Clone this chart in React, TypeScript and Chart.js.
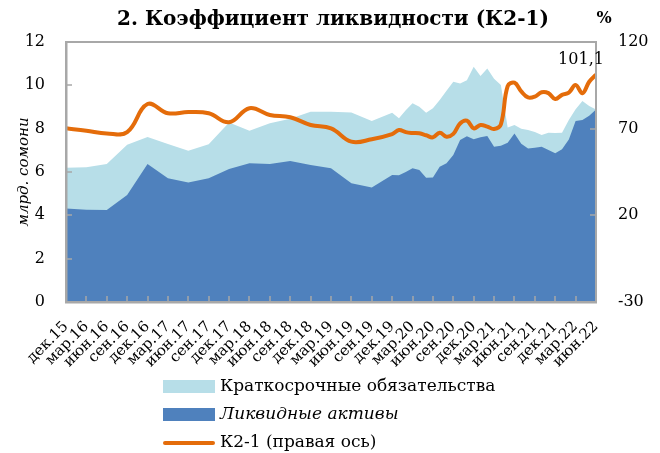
import React, { useEffect, useRef } from "react";
import { Chart, registerables } from "chart.js";

Chart.register(...registerables);

const quarterLabels = [
  "дек.15", "мар.16", "июн.16", "сен.16", "дек.16", "мар.17", "июн.17", "сен.17",
  "дек.17", "мар.18", "июн.18", "сен.18", "дек.18", "мар.19", "июн.19", "сен.19",
  "дек.19", "мар.20", "июн.20", "сен.20", "дек.20", "мар.21", "июн.21", "сен.21",
  "дек.21", "мар.22", "июн.22",
];

// month index counted from dec.15 (quarterly until dec.19, monthly after)
const months = [
  0, 3, 6, 9, 12, 15, 18, 21, 24, 27, 30, 33, 36, 39, 42, 45, 48,
  49, 50, 51, 52, 53, 54, 55, 56, 57, 58, 59, 60, 61, 62, 63, 64, 65, 66, 67, 68,
  69, 70, 71, 72, 73, 74, 75, 76, 77, 78,
];

// Краткосрочные обязательства, млрд. сомони
const liabilities = [
  6.2, 6.22, 6.37, 7.26, 7.61, 7.29, 6.98, 7.28, 8.29, 7.9, 8.25, 8.46, 8.78, 8.78, 8.75, 8.35, 8.74,
  8.48, 8.85, 9.17, 9.01, 8.74, 8.94, 9.32, 9.75, 10.17, 10.09, 10.24, 10.86, 10.43, 10.78, 10.3, 10.01,
  8.05, 8.17, 8.0, 7.94, 7.85, 7.71, 7.81, 7.8, 7.81, 8.4, 8.9, 9.28, 9.05, 8.89,
];

// Ликвидные активы, млрд. сомони
const assets = [
  4.32, 4.26, 4.25, 4.94, 6.37, 5.71, 5.51, 5.71, 6.14, 6.4, 6.37, 6.51, 6.32, 6.17, 5.48, 5.29, 5.86,
  5.85, 6.0, 6.17, 6.09, 5.74, 5.75, 6.24, 6.4, 6.78, 7.48, 7.65, 7.51, 7.6, 7.66, 7.17, 7.21,
  7.35, 7.78, 7.3, 7.09, 7.12, 7.17, 7.01, 6.86, 7.05, 7.5, 8.35, 8.4, 8.6, 8.89,
];

// К2-1, %
const ratio = [
  70.2, 68.8, 67.2, 68.0, 84.2, 78.9, 79.6, 78.9, 73.7, 81.8, 77.9, 76.6, 72.1, 70.2, 62.5, 63.9, 66.9,
  69.2, 68.0, 67.5, 67.3, 66.2, 65.0, 67.7, 65.4, 67.0, 73.0, 74.6, 70.2, 72.1, 71.2, 69.8, 72.5,
  94.5, 96.5, 91.5, 88.0, 88.5, 91.0, 90.5, 87.1, 89.5, 90.8, 95.2, 90.4, 97.1, 101.1,
];

const leftTicks = [0, 2, 4, 6, 8, 10, 12];
const rightTicks = [-30, 20, 70, 120];

const LIGHT = "#b7dee8";
const DARK = "#4f81bd";
const ORANGE = "#e46c0a";
const AXIS = "#a8a8a8";
const FONT = "'DejaVu Serif', serif";

const overlayPlugin = {
  id: "overlay",
  afterDraw(chart: any) {
    const ctx = chart.ctx;
    const a = chart.chartArea;
    const sx = chart.scales.x;
    const sy = chart.scales.y;
    const sy1 = chart.scales.y1;

    // frame and inward tick marks
    ctx.save();
    ctx.globalAlpha = 1;
    ctx.globalCompositeOperation = "source-over";
    ctx.fillStyle = AXIS;
    ctx.fillRect(a.left - 1, a.top - 1, a.right - a.left + 2, 2);
    ctx.fillRect(a.left - 1, a.top - 1, 2.5, a.bottom - a.top + 2);
    ctx.fillRect(a.left - 1, a.bottom - 1, a.right - a.left + 2, 2.5);
    ctx.fillRect(a.right - 1, a.top - 1, 2, a.bottom - a.top + 2);
    for (const v of leftTicks) {
      if (v === 8) continue; // hidden under the K2-1 line
      const py = Math.round(sy.getPixelForValue(v));
      ctx.fillRect(a.left, py - 0.75, 6, 1.5);
    }
    for (const v of rightTicks) {
      const py = Math.round(sy1.getPixelForValue(v));
      ctx.fillRect(a.right - 6, py - 0.75, 6, 1.5);
    }
    for (let i = 0; i < quarterLabels.length; i++) {
      const px = Math.round(sx.getPixelForValue(i * 3));
      ctx.fillRect(px - 0.75, a.bottom - 6, 1.5, 6);
    }
    ctx.restore();

    ctx.save();
    ctx.fillStyle = "#000";
    ctx.textBaseline = "middle";
    ctx.textAlign = "center";
    ctx.font = `bold 20px ${FONT}`;
    ctx.fillText("2. Коэффициент ликвидности (К2-1)", 333, 20);
    ctx.font = `bold 16px ${FONT}`;
    ctx.fillText("%", 604, 19);
    // last value label
    const last = ratio.length - 1;
    const lx = sx.getPixelForValue(months[last]);
    const ly = sy1.getPixelForValue(ratio[last]);
    ctx.font = `16px ${FONT}`;
    ctx.fillText(String(ratio[last]).replace(".", ","), lx - 15, ly - 15);

    // legend
    const items = [
      { text: "Краткосрочные обязательства", type: "box", color: LIGHT, italic: false },
      { text: "Ликвидные активы", type: "box", color: DARK, italic: true },
      { text: "К2-1 (правая ось)", type: "line", color: ORANGE, italic: false },
    ];
    const rowsY = [386.5, 414.5, 443];
    ctx.textAlign = "left";
    items.forEach((it, i) => {
      const cy = rowsY[i];
      if (it.type === "box") {
        ctx.fillStyle = it.color;
        ctx.fillRect(163, cy - 6.5, 52, 13);
      } else {
        ctx.strokeStyle = it.color;
        ctx.lineWidth = 4;
        ctx.lineCap = "round";
        ctx.beginPath();
        ctx.moveTo(165, cy);
        ctx.lineTo(213, cy);
        ctx.stroke();
      }
      ctx.fillStyle = "#000";
      ctx.font = `${it.italic ? "italic " : ""}17px ${FONT}`;
      ctx.fillText(it.text, 220, cy);
    });
    ctx.restore();
  },
};

export default function App() {
  const ref = useRef<HTMLCanvasElement | null>(null);

  useEffect(() => {
    if (!ref.current) return;
    const chart = new Chart(ref.current, {
      type: "line",
      data: {
        datasets: [
          {
            label: "К2-1 (правая ось)",
            data: months.map((m, i) => ({ x: m, y: ratio[i] })),
            yAxisID: "y1",
            borderColor: ORANGE,
            borderWidth: 4,
            pointRadius: 0,
            tension: 0.4,
            fill: false,
          },
          {
            label: "Ликвидные активы",
            data: months.map((m, i) => ({ x: m, y: assets[i] })),
            yAxisID: "y",
            backgroundColor: DARK,
            borderWidth: 0,
            borderColor: "rgba(0,0,0,0)",
            pointRadius: 0,
            tension: 0,
            fill: "origin",
          },
          {
            label: "Краткосрочные обязательства",
            data: months.map((m, i) => ({ x: m, y: liabilities[i] })),
            yAxisID: "y",
            backgroundColor: LIGHT,
            borderWidth: 0,
            borderColor: "rgba(0,0,0,0)",
            pointRadius: 0,
            tension: 0,
            fill: "origin",
          },
        ],
      },
      options: {
        animation: false,
        responsive: false,
        layout: { padding: { top: 42, left: 0, right: 0, bottom: 0 } },
        plugins: {
          legend: { display: false },
          tooltip: { enabled: false },
          title: { display: false },
        },
        scales: {
          x: {
            type: "linear",
            min: 0,
            max: 78,
            grid: { display: false, drawTicks: false },
            border: { display: false },
            ticks: {
              stepSize: 3,
              autoSkip: false,
              maxRotation: 45,
              minRotation: 45,
              padding: 16,
              color: "#000",
              font: { family: FONT, size: 15 },
              callback: (v: any) => quarterLabels[Math.round(Number(v) / 3)] ?? "",
            },
            afterFit: (s: any) => {
              s.height = 151;
            },
          },
          y: {
            position: "left",
            min: 0,
            max: 12,
            grid: { display: false, drawTicks: false },
            border: { display: false },
            ticks: {
              stepSize: 2,
              padding: 21,
              color: "#000",
              font: { family: FONT, size: 16 },
            },
            title: {
              display: true,
              text: "млрд. сомони",
              color: "#000",
              font: { family: FONT, size: 15, style: "italic" },
              padding: { top: 15, bottom: 0 },
            },
            afterFit: (s: any) => {
              s.width = 66;
            },
          },
          y1: {
            position: "right",
            min: -30,
            max: 120,
            grid: { display: false, drawTicks: false },
            border: { display: false },
            ticks: {
              stepSize: 50,
              padding: 22,
              color: "#000",
              font: { family: FONT, size: 16 },
            },
            afterFit: (s: any) => {
              s.width = 64;
            },
          },
        },
      },
      plugins: [overlayPlugin],
    });
    return () => chart.destroy();
  }, []);

  return (
    <div style={{ position: "absolute", left: 0, top: 0, width: 660, height: 453, background: "#fff" }}>
      <canvas ref={ref} width={660} height={453} style={{ display: "block" }} />
    </div>
  );
}
